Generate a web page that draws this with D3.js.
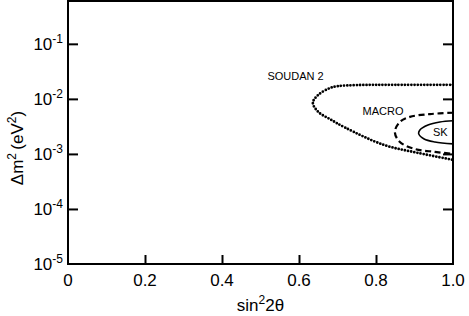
<!DOCTYPE html>
<html>
<head>
<meta charset="utf-8">
<script src="https://cdn.jsdelivr.net/npm/d3@7"></script>
<style>
  body { margin: 0; background: #fff; }
  text { font-family: "Liberation Sans", Arial, sans-serif; fill: #000; }
</style>
</head>
<body>
<svg id="chart"></svg>
<script>
// Axis ticks
const xTicks = [0, 0.2, 0.4, 0.6, 0.8, 1.0];
const xTickLabels = ["0", "0.2", "0.4", "0.6", "0.8", "1.0"];
const yTicks = [1e-5, 1e-4, 1e-3, 1e-2, 1e-1];
const yTickExps = ["-5", "-4", "-3", "-2", "-1"];
const yTop = 0.6;

// SOUDAN 2 contour (dotted)
const soudanX = [1.0, 0.85, 0.75, 0.70, 0.68, 0.65, 0.636, 0.65, 0.68, 0.72, 0.82, 0.91, 1.0];
const soudanY = [0.018, 0.018, 0.0178, 0.0170, 0.0157, 0.0118, 0.0085, 0.0058, 0.0043, 0.0030, 0.00146, 0.00104, 0.00078];

// MACRO contour (dashed)
const macroX = [1.0, 0.94, 0.888, 0.862, 0.849, 0.862, 0.901, 0.953, 1.0];
const macroY = [0.0056, 0.0053, 0.0047, 0.0038, 0.0025, 0.00165, 0.00123, 0.00109, 0.00100];

// SK contour (solid)
const skX = [1.0, 0.966, 0.935, 0.914, 0.911, 0.925, 0.953, 1.0];
const skY = [0.0040, 0.0038, 0.00336, 0.00273, 0.00231, 0.00187, 0.00165, 0.00152];

const width = 469, height = 316;
const margin = { top: 1, right: 16, bottom: 52, left: 68 };
const x0 = margin.left, x1 = width - margin.right;
const y0 = height - margin.bottom, y1 = margin.top;

const svg = d3.select("#chart").attr("width", width).attr("height", height);

const x = d3.scaleLinear().domain([0, 1]).range([x0, x1]);
const y = d3.scaleLog().domain([1e-5, yTop]).range([y0, y1]);

// Clip
svg.append("defs").append("clipPath").attr("id", "plot")
  .append("rect").attr("x", x0).attr("y", y1).attr("width", x1 - x0).attr("height", y0 - y1);

const line = d3.line()
  .x(d => x(d[0]))
  .y(d => y(d[1]))
  .curve(d3.curveCatmullRom.alpha(0.5));

const plot = svg.append("g").attr("clip-path", "url(#plot)");

plot.append("path")
  .attr("d", line(d3.zip(soudanX, soudanY)))
  .attr("fill", "none")
  .attr("stroke", "#000")
  .attr("stroke-width", 2.8)
  .attr("stroke-linecap", "round")
  .attr("stroke-dasharray", "0 3.2");

plot.append("path")
  .attr("d", line(d3.zip(macroX, macroY)))
  .attr("fill", "none")
  .attr("stroke", "#000")
  .attr("stroke-width", 2.2)
  .attr("stroke-dasharray", "6 3.5");

plot.append("path")
  .attr("d", line(d3.zip(skX, skY)))
  .attr("fill", "none")
  .attr("stroke", "#000")
  .attr("stroke-width", 1.6);

// Ticks (inward)
svg.append("g")
  .attr("transform", `translate(0,${y0})`)
  .call(d3.axisBottom(x).tickValues(xTicks.slice(1, -1)).tickSize(-9).tickFormat(""))
  .call(g => g.select(".domain").remove())
  .selectAll("line").attr("stroke-width", 2);

svg.append("g")
  .attr("transform", `translate(${x0},0)`)
  .call(d3.axisLeft(y).tickValues(yTicks.slice(1)).tickSize(-10).tickFormat(""))
  .call(g => g.select(".domain").remove())
  .selectAll("line").attr("stroke-width", 2);

svg.append("g")
  .attr("transform", `translate(${x1},0)`)
  .call(d3.axisRight(y).tickValues(yTicks.slice(1)).tickSize(-10).tickFormat(""))
  .call(g => g.select(".domain").remove())
  .selectAll("line").attr("stroke-width", 2);

// Frame
svg.append("rect")
  .attr("x", x0).attr("y", y1)
  .attr("width", x1 - x0).attr("height", y0 - y1)
  .attr("fill", "none").attr("stroke", "#000").attr("stroke-width", 2);

// X tick labels
svg.append("g").selectAll("text")
  .data(xTicks)
  .join("text")
  .attr("x", d => x(d))
  .attr("y", y0 + 22)
  .attr("text-anchor", "middle")
  .attr("font-size", 17)
  .text((d, i) => xTickLabels[i]);

// Y tick labels
const yl = svg.append("g").selectAll("text")
  .data(yTicks)
  .join("text")
  .attr("x", x0 - 5)
  .attr("y", d => y(d) + 6)
  .attr("text-anchor", "end")
  .attr("font-size", 17);
yl.append("tspan").text("10");
yl.append("tspan").attr("dy", -7).attr("font-size", 12).text((d, i) => yTickExps[i]);

// Axis titles
const xt = svg.append("text")
  .attr("x", (x0 + x1) / 2)
  .attr("y", height - 5)
  .attr("text-anchor", "middle")
  .attr("font-size", 17);
xt.append("tspan").text("sin");
xt.append("tspan").attr("dy", -7).attr("font-size", 12).text("2");
xt.append("tspan").attr("dy", 7).text("2θ");

const yt = svg.append("text")
  .attr("transform", `translate(23,148) rotate(-90)`)
  .attr("text-anchor", "middle")
  .attr("font-size", 17);
yt.append("tspan").text("Δm");
yt.append("tspan").attr("dy", -7).attr("font-size", 12).text("2 ");
yt.append("tspan").attr("dy", 7).text("(eV");
yt.append("tspan").attr("dy", -7).attr("font-size", 12).text("2");
yt.append("tspan").attr("dy", 7).text(")");

// Contour labels
const labels = [
  { t: "SOUDAN 2", x: 0.518, y: 0.026 },
  { t: "MACRO", x: 0.765, y: 0.0060 },
  { t: "SK", x: 0.948, y: 0.0025 }
];
svg.append("g").selectAll("text")
  .data(labels)
  .join("text")
  .attr("x", d => x(d.x))
  .attr("y", d => y(d.y) + 4)
  .attr("font-size", 11)
  .text(d => d.t);
</script>
</body>
</html>
